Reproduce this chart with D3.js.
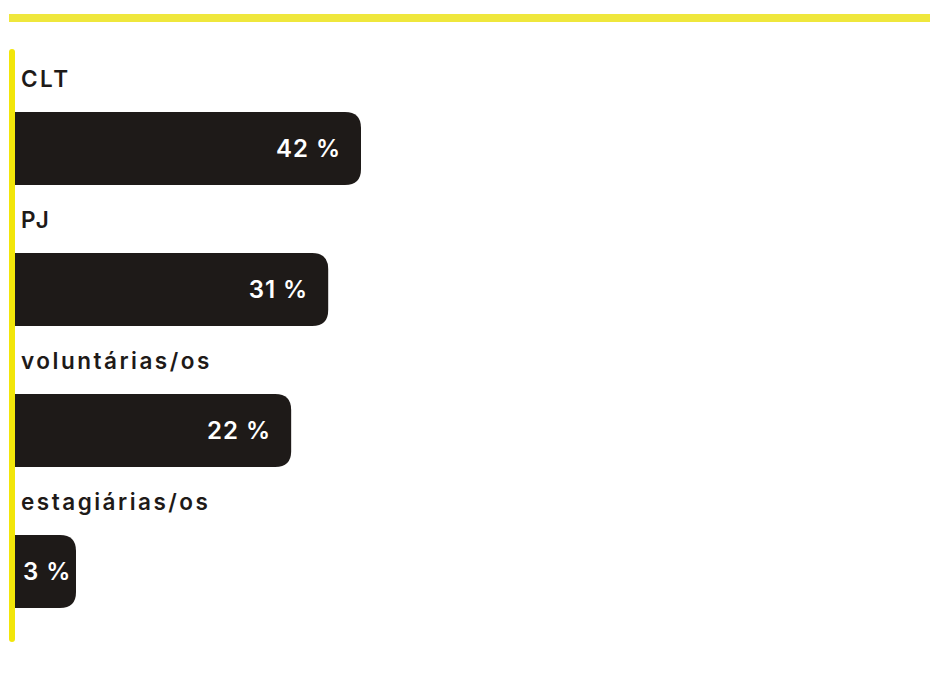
<!DOCTYPE html>
<html>
<head>
<meta charset="utf-8">
<script src="https://cdn.jsdelivr.net/npm/d3@7"></script>
<style>
  body { margin: 0; background: #fff; }
  svg { display: block; font-family: "Inter", "DejaVu Sans", sans-serif; }
</style>
</head>
<body>
<div id="chart"></div>
<script>
const categories = ["CLT", "PJ", "voluntárias/os", "estagiárias/os"];
const values = [42, 31, 22, 3];

const width = 930;
const height = 675;
const barLeft = 15;
const barHeight = 73;
const radius = 16;

const svg = d3.select("#chart")
    .append("svg")
    .attr("width", width)
    .attr("height", height);

// bar length follows a log scale, as in the original
const x = d3.scaleLog()
    .domain([3, 42])
    .range([76, 361]);

const y = d3.scalePoint()
    .domain(categories)
    .range([112, 535]);

// top rule
svg.append("rect")
    .attr("x", 9)
    .attr("y", 14)
    .attr("width", width - 9)
    .attr("height", 8)
    .attr("fill", "#efe73c");

// left axis line
svg.append("rect")
    .attr("x", 9)
    .attr("y", 49)
    .attr("width", 6)
    .attr("height", 593)
    .attr("rx", 3)
    .attr("fill", "#f2e60a");

const data = categories.map((c, i) => ({ cat: c, value: values[i] }));

function barPath(x0, y0, x1, h, r) {
    return `M${x0},${y0} H${x1 - r} Q${x1},${y0} ${x1},${y0 + r} V${y0 + h - r} Q${x1},${y0 + h} ${x1 - r},${y0 + h} H${x0} Z`;
}

const g = svg.selectAll(".row")
    .data(data)
    .enter().append("g")
    .attr("class", "row");

g.append("text")
    .attr("x", 21)
    .attr("y", d => y(d.cat) - 25)
    .attr("font-size", "22.5px")
    .attr("font-weight", 600)
    .attr("letter-spacing", "2.5px")
    .attr("fill", "#1e1a18")
    .text(d => d.cat);

g.append("path")
    .attr("d", d => barPath(barLeft, y(d.cat), x(d.value), barHeight, radius))
    .attr("fill", "#1e1a18");

g.append("text")
    .attr("class", "pct")
    .attr("y", d => y(d.cat) + barHeight / 2)
    .attr("dy", "0.36em")
    .attr("font-size", "24px")
    .attr("font-weight", 600)
    .attr("letter-spacing", "1px")
    .attr("fill", "#fff")
    .text(d => d.value + " %")
    .each(function(d) {
        const w = this.getComputedTextLength();
        const end = x(d.value);
        if (end - barLeft < w + 30) {
            d3.select(this).attr("x", 23).attr("text-anchor", "start");
        } else {
            d3.select(this).attr("x", end - 20).attr("text-anchor", "end");
        }
    });
</script>
</body>
</html>
